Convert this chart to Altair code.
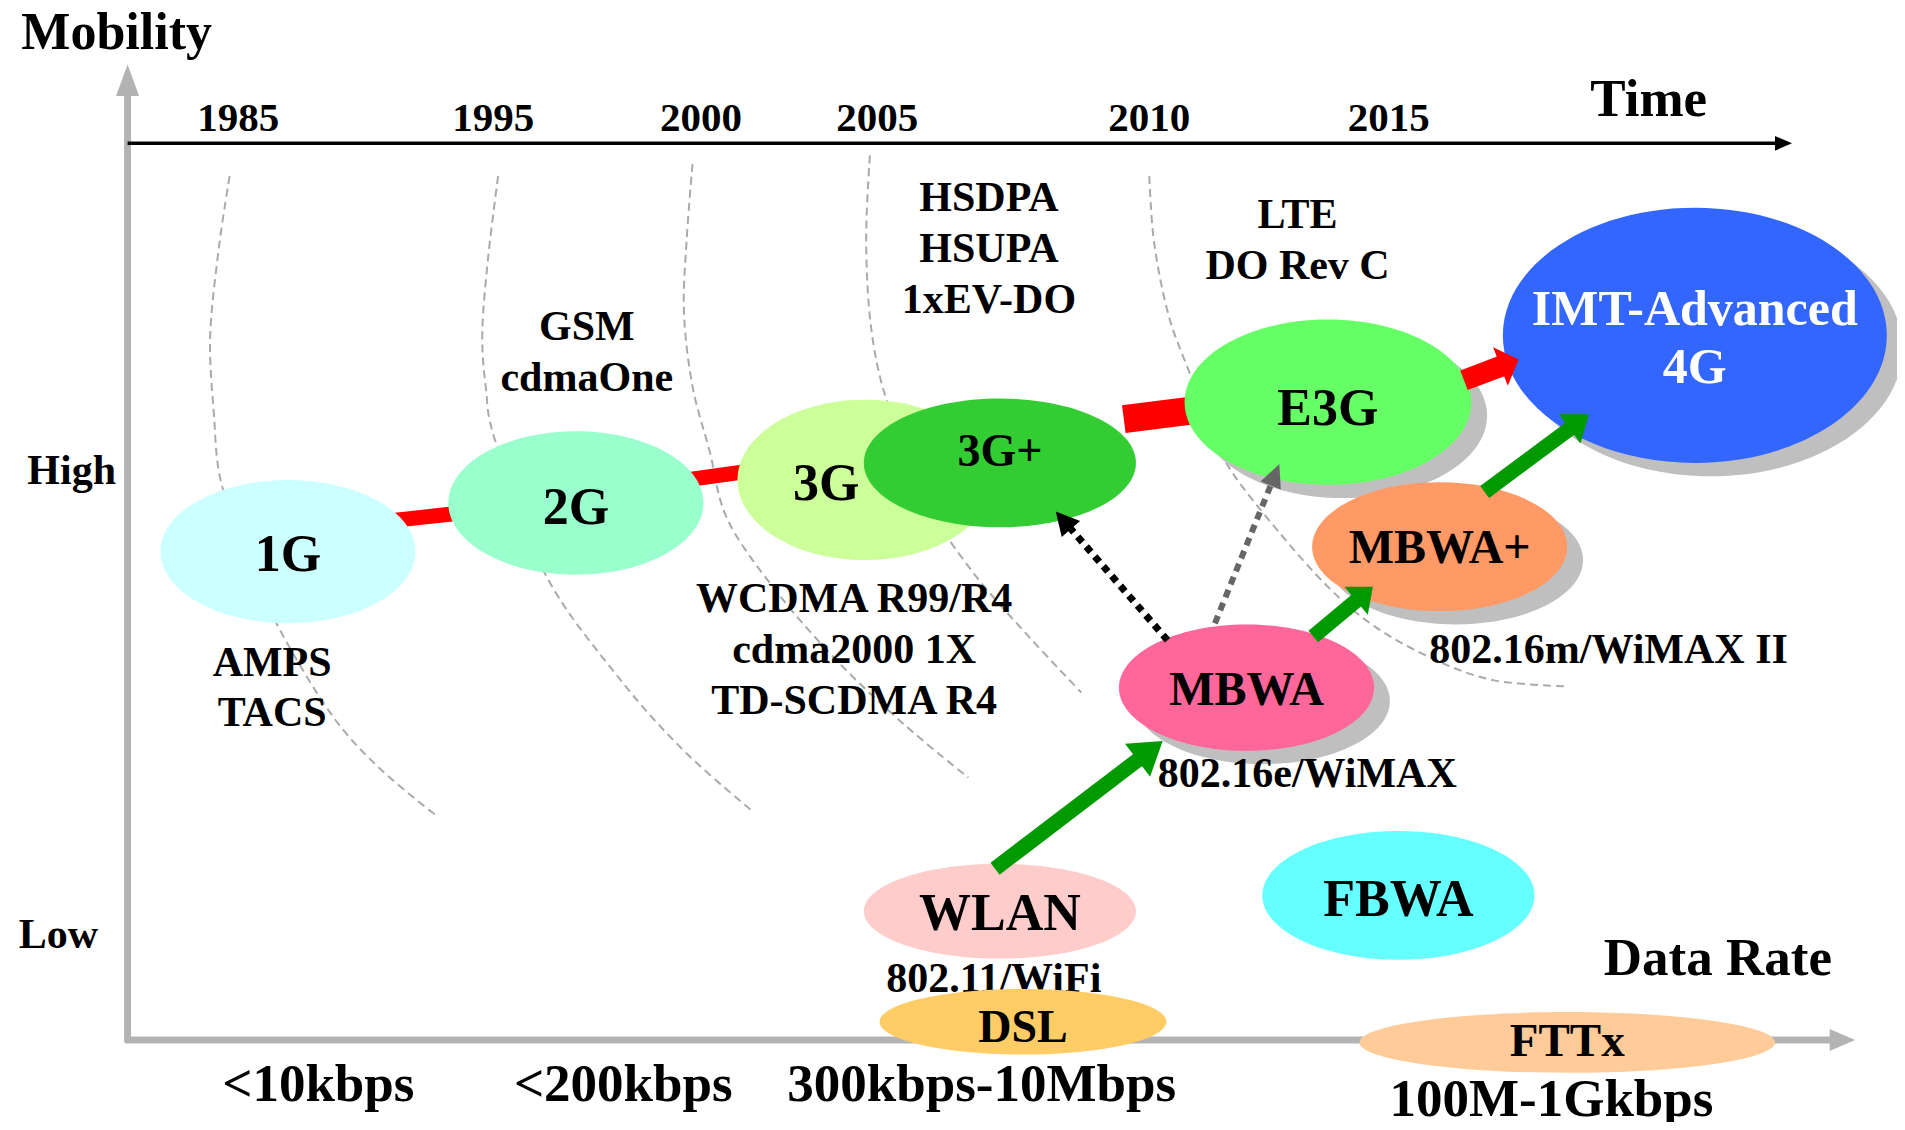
import math
import altair as alt
import pandas as pd

# picture units: the reference drawn at 1568 x 930; F converts them to screen pixels
F = 1905 / 1568.0
W, H = 1889, 1114
FONT = "Liberation Serif"

# ---------------- data ----------------
node_names = ["1G", "2G", "3G", "3G+", "E3G", "IMT", "MBWA+", "MBWA", "WLAN", "FBWA", "DSL", "FTTx"]
node_x = [237, 474, 712, 823, 1093, 1395, 1185, 1026, 823, 1151, 842, 1290]
node_y = [454, 414, 395, 381, 331, 276, 450, 566, 750, 737, 841, 858]
node_rx = [105, 105, 105, 112, 118, 158, 105, 105, 112, 112, 118, 171]
node_ry = [59, 59, 66, 53, 68, 105, 53, 52, 39, 53, 27, 25]
node_color = ["#ccffff", "#99ffcc", "#ccff99", "#33cc33", "#66ff66", "#3366ff",
              "#ff9966", "#ff6699", "#ffcccc", "#66ffff", "#ffcc66", "#ffcc99"]
node_shadow = [False, False, False, False, True, True, True, True, False, False, False, False]

# dashed generation boundaries
curve1 = [(189, 145), (180, 205), (173, 277), (176, 340), (182, 397), (205, 460), (228, 514), (272, 587), (312, 632), (360, 672)]
curve2 = [(410, 145), (402, 210), (397, 273), (400, 320), (408, 364), (449, 473), (511, 560), (565, 620), (621, 669)]
curve3 = [(570, 135), (565, 200), (563, 258), (570, 318), (584, 371), (599, 428), (640, 488), (690, 545), (745, 597), (797, 640)]
curve4 = [(716, 128), (713, 190), (715, 250), (722, 300), (735, 345), (760, 410), (800, 470), (845, 522), (890, 570)]
curve5 = [(946, 145), (950, 200), (962, 260), (980, 309), (1000, 360), (1015, 390), (1051, 436), (1093, 483), (1132, 516), (1181, 543), (1230, 560), (1291, 565)]
curves = [curve1, curve2, curve3, curve4, curve5]

# red connectors hidden under the ellipses
bar_start_x = [300, 550, 925]
bar_start_y = [431, 397, 345]
bar_end_x = [400, 630, 1000]
bar_end_y = [420, 386, 335.5]
bar_width = [15, 15, 28]

# arrows: start, tip, head length, head half-width (picture units)
arrow_kind = ["red", "green", "green", "green", "black", "gray"]
arrow_sx = [1205, 819, 1081, 1222, 961, 1000]
arrow_sy = [313, 715, 524, 405, 527, 513]
arrow_tx = [1250, 957, 1130, 1308, 869, 1053]
arrow_ty = [296, 610, 483, 341, 421, 382]
arrow_len = [16, 26, 18, 20, 19, 19]
arrow_half = [17, 17, 15, 15, 10, 9]

# axes: start, tip
axis_kind = ["grayv", "grayh", "time"]
axis_sx = [105, 103, 105]
axis_sy = [858, 856, 118]
axis_tx = [105, 1527, 1475]
axis_ty = [53, 856, 118]
axis_len = [26, 21, 14]
axis_half = [9.5, 9, 6]
axis_line_end_x = [105, 1510, 1466]
axis_line_end_y = [75, 856, 118]

years = ["1985", "1995", "2000", "2005", "2010", "2015"]
year_x = [196, 406, 577, 722, 946, 1143]

rate_labels = ["<10kbps", "<200kbps", "300kbps-10Mbps", "100M-1Gkbps"]
rate_x = [262, 513, 808, 1277]
rate_y = [893, 893, 893, 905]

tech_labels = ["GSM", "cdmaOne", "AMPS", "TACS", "WCDMA R99/R4", "cdma2000 1X", "TD-SCDMA R4",
               "HSDPA", "HSUPA", "1xEV-DO", "LTE", "DO Rev C", "802.16m/WiMAX II", "802.16e/WiMAX"]
tech_x = [483, 483, 224, 224, 703, 703, 703, 814, 814, 814, 1068, 1068, 1324, 1076]
tech_y = [269, 311, 546, 587, 493, 535, 577, 163, 205, 247, 177, 219, 535, 637]

node_labels = ["1G", "2G", "3G", "3G+", "E3G", "IMT-Advanced", "4G", "MBWA+", "MBWA", "WLAN", "FBWA", "DSL", "FTTx"]
node_label_x = [237, 474, 680, 823, 1093, 1395, 1395, 1185, 1026, 823, 1151, 842, 1290]
node_label_y = [457, 418, 398, 372, 337, 255, 303, 452, 569, 752, 741, 846, 858]

# ---------------- styles ----------------
kind_color = {"red": "#ff0000", "green": "#009900", "black": "#000000", "gray": "#666666",
              "grayv": "#b3b3b3", "grayh": "#b3b3b3", "time": "#000000"}
kind_width = {"red": 21, "green": 15, "black": 7, "gray": 6, "grayv": 7, "grayh": 7, "time": 3.5}
node_label_size = [52, 52, 52, 46, 52, 50, 50, 48, 48, 52, 52, 46, 47]
node_label_color = ["black"] * 5 + ["white", "white"] + ["black"] * 6

# ---------------- scales ----------------
xs = alt.Scale(domain=[8 / F, (8 + W) / F], nice=False, zero=False)
ys = alt.Scale(domain=[8 / F, (8 + H) / F], nice=False, zero=False, reverse=True)


def X(f="x"):
    return alt.X(f"{f}:Q", scale=xs, axis=None)


def Y(f="y"):
    return alt.Y(f"{f}:Q", scale=ys, axis=None)


def ellipse_path(rx, ry):
    k = ry / rx
    return f"M-1,0A1,{k:.4f},0,1,1,1,0A1,{k:.4f},0,1,1,-1,0Z"


def head_rows(kinds, sx, sy, tx, ty, ln, hw):
    lines, heads = [], []
    for kd, x0, y0, x1, y1, L, w in zip(kinds, sx, sy, tx, ty, ln, hw):
        dx, dy = x1 - x0, y1 - y0
        d = math.hypot(dx, dy)
        ux, uy = dx / d, dy / d
        lines.append({"kind": kd, "x": x0, "y": y0, "x2": x1 - 0.8 * L * ux, "y2": y1 - 0.8 * L * uy,
                      "w": kind_width[kd], "color": kind_color[kd]})
        ang = math.degrees(math.atan2(dy, dx)) % 360
        heads.append({"x": x1 - L / 2 * ux, "y": y1 - L / 2 * uy, "angle": ang,
                      "size": (L * F) ** 2, "shape": f"M1,0L-1,{-2 * w / L:.4f}L-1,{2 * w / L:.4f}Z",
                      "color": kind_color[kd]})
    return pd.DataFrame(lines), pd.DataFrame(heads)


# ---------------- tables ----------------
curve_df = pd.DataFrame([{"c": ci, "i": i, "x": p[0], "y": p[1]}
                         for ci, c in enumerate(curves) for i, p in enumerate(c)])

nodes = pd.DataFrame({"name": node_names, "x": node_x, "y": node_y, "rx": node_rx, "ry": node_ry,
                      "color": node_color, "shadow": node_shadow})
nodes["shape"] = [ellipse_path(a, b) for a, b in zip(nodes.rx, nodes.ry)]
nodes["size"] = [(2 * a * F) ** 2 for a in nodes.rx]
shadows = nodes[nodes.shadow].copy()
shadows["x"] = shadows["x"] + 13
shadows["y"] = shadows["y"] + 11
shadows["color"] = "#bfbfbf"

bars = pd.DataFrame({"x": bar_start_x, "y": bar_start_y, "x2": bar_end_x, "y2": bar_end_y, "w": bar_width})
bars["color"] = "#ff0000"

arrow_lines, arrow_heads = head_rows(arrow_kind, arrow_sx, arrow_sy, arrow_tx, arrow_ty, arrow_len, arrow_half)
axis_lines, axis_heads = head_rows(axis_kind, axis_sx, axis_sy, axis_tx, axis_ty, axis_len, axis_half)
axis_lines = axis_lines.copy()
axis_lines["x2"] = axis_line_end_x
axis_lines["y2"] = axis_line_end_y

text_rows = []
text_rows.append({"t": "Mobility", "x": 96, "y": 27, "fs": 52, "color": "black"})
text_rows.append({"t": "Time", "x": 1357, "y": 82, "fs": 53, "color": "black"})
text_rows.append({"t": "Data Rate", "x": 1414, "y": 789, "fs": 53, "color": "black"})
text_rows.append({"t": "High", "x": 59, "y": 388, "fs": 42, "color": "black"})
text_rows.append({"t": "Low", "x": 48, "y": 770, "fs": 42, "color": "black"})
for t, x in zip(years, year_x):
    text_rows.append({"t": t, "x": x, "y": 98, "fs": 41, "color": "black"})
for t, x, y in zip(rate_labels, rate_x, rate_y):
    text_rows.append({"t": t, "x": x, "y": y, "fs": 53, "color": "black"})
for t, x, y in zip(tech_labels, tech_x, tech_y):
    text_rows.append({"t": t, "x": x, "y": y, "fs": 42, "color": "black"})
for t, x, y, s, c in zip(node_labels, node_label_x, node_label_y, node_label_size, node_label_color):
    text_rows.append({"t": t, "x": x, "y": y, "fs": s, "color": c})
texts = pd.DataFrame(text_rows)
wifi = pd.DataFrame([{"t": "802.11/WiFi", "x": 818, "y": 806, "fs": 42, "color": "black"}])

# ---------------- layers ----------------
curve_layer = alt.Chart(curve_df).mark_line(
    color="#aaaaaa", strokeWidth=2, strokeDash=[8, 5], interpolate="cardinal"
).encode(x=X(), y=Y(), detail="c:N", order="i:Q")


def rule_layer(df, dash=None):
    kw = {"strokeCap": "butt"}
    if dash:
        kw["strokeDash"] = dash
    return alt.Chart(df).mark_rule(**kw).encode(
        x=X(), y=Y(), x2="x2:Q", y2="y2:Q",
        color=alt.Color("color:N", scale=None),
        strokeWidth=alt.StrokeWidth("w:Q", scale=None),
    )


def symbol_layer(df, with_angle=False):
    enc = dict(x=X(), y=Y(),
               shape=alt.Shape("shape:N", scale=None),
               size=alt.Size("size:Q", scale=None),
               color=alt.Color("color:N", scale=None))
    if with_angle:
        enc["angle"] = alt.Angle("angle:Q", scale=None)
    return alt.Chart(df).mark_point(filled=True, opacity=1, strokeWidth=0).encode(**enc)


def text_layer(df):
    return alt.Chart(df).mark_text(font=FONT, fontWeight="bold", align="center", baseline="middle").encode(
        x=X(), y=Y(), text="t:N",
        size=alt.Size("fs:Q", scale=None),
        color=alt.Color("color:N", scale=None),
    )


layers = [
    curve_layer,
    rule_layer(axis_lines),
    symbol_layer(axis_heads, True),
    rule_layer(bars),
    text_layer(wifi),
    symbol_layer(shadows),
    symbol_layer(nodes),
    rule_layer(arrow_lines[arrow_lines.kind.isin(["red", "green"])]),
    rule_layer(arrow_lines[arrow_lines.kind == "black"], dash=[7, 6]),
    rule_layer(arrow_lines[arrow_lines.kind == "gray"], dash=[8, 6]),
    symbol_layer(arrow_heads, True),
    text_layer(texts),
]

chart = alt.layer(*layers).properties(
    width=W, height=H, padding=0,
    autosize=alt.AutoSizeParams(type="none"),
).configure_view(stroke=None)

chart.save("out.html", embed_options={"renderer": "svg", "actions": False})
